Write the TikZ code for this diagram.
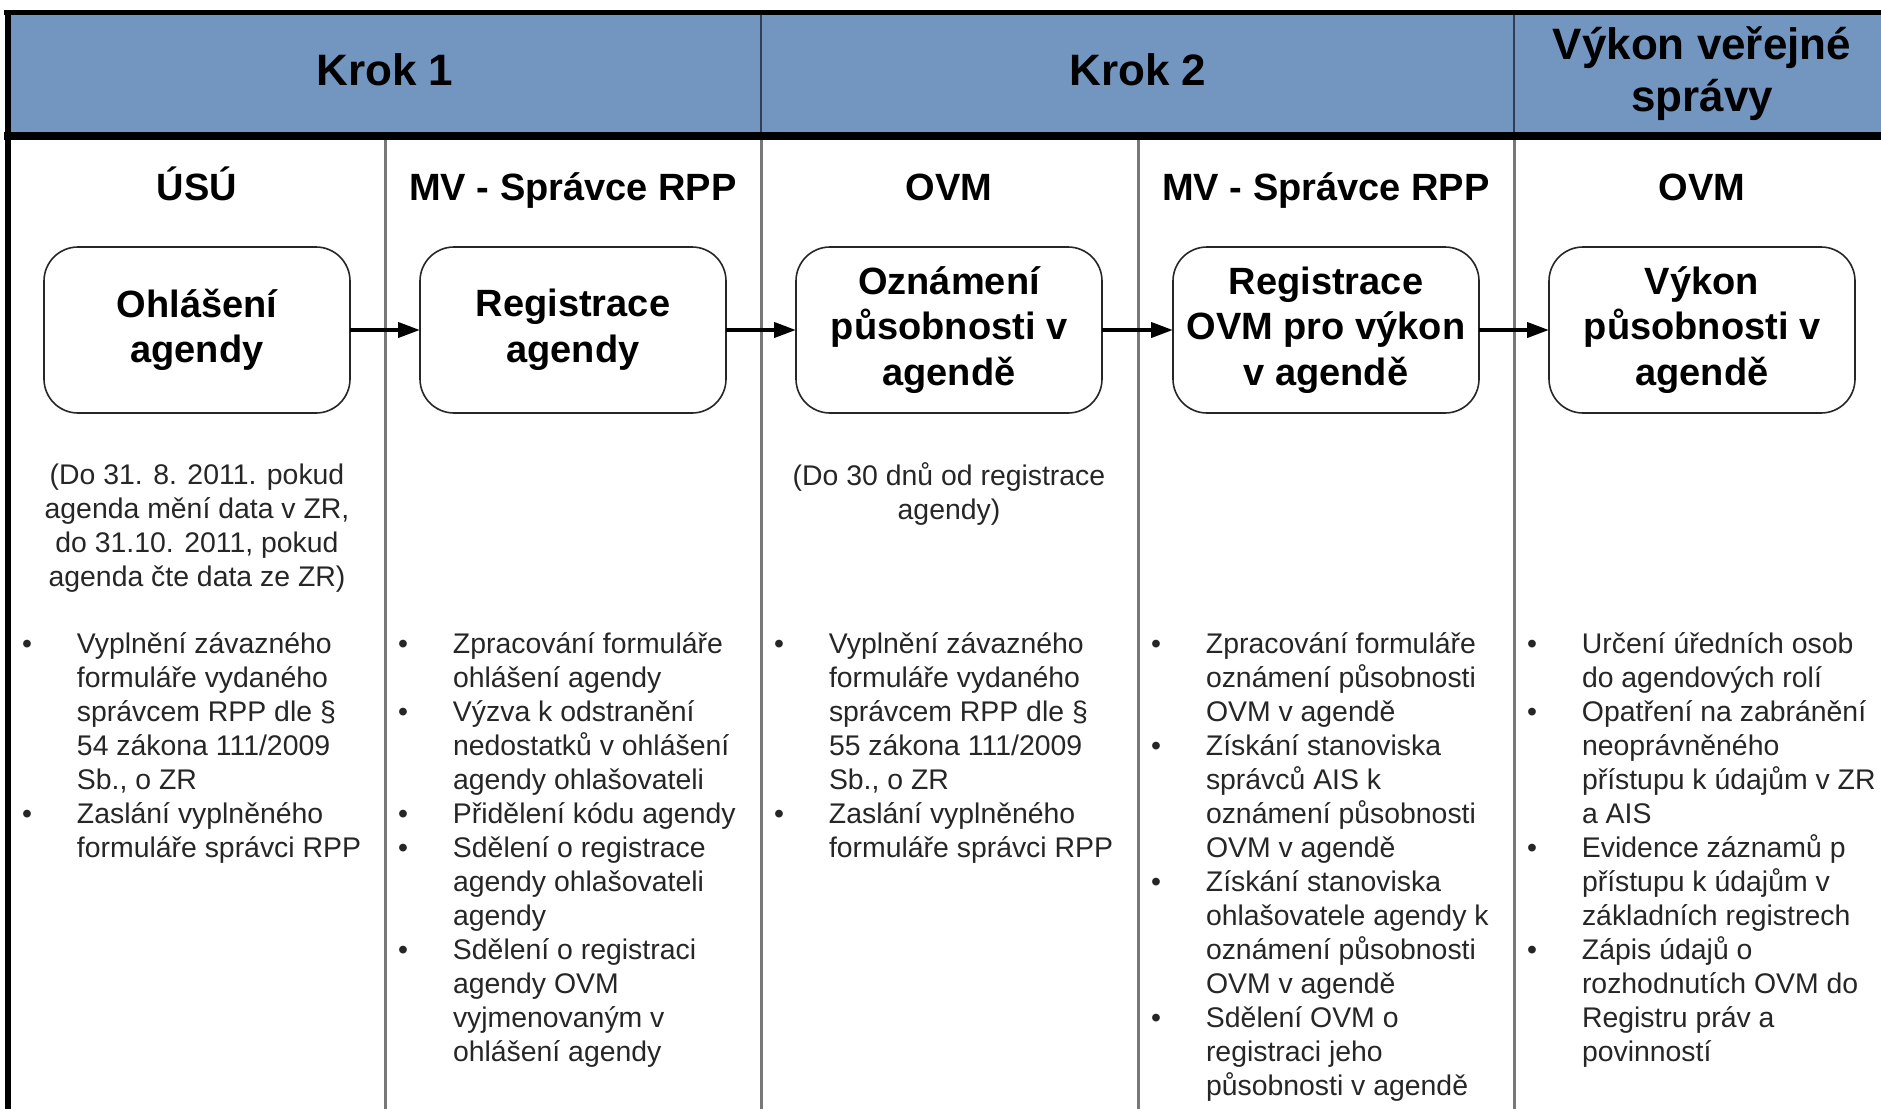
\documentclass[tikz,border=0pt]{standalone}
\usepackage{fontspec}
\setmainfont{Liberation Sans}
\usetikzlibrary{arrows.meta}
\definecolor{headblue}{RGB}{115,150,193}
\definecolor{headline}{RGB}{52,62,82}
\definecolor{laneline}{RGB}{120,120,120}

\begin{document}
\begin{tikzpicture}[x=0.5pt, y=-0.5pt, outer sep=0pt]
  \tikzstyle{title}=[
    font=\fontsize{22}{26}\selectfont\bfseries,
    align=center
  ]
  \tikzstyle{role}=[anchor=base, font=\fontsize{19}{23}\selectfont\bfseries]
  \tikzstyle{stepbox}=[
    draw=black!85,
    line width=0.8pt,
    rounded corners=17pt,
    minimum width=153pt,
    minimum height=83pt,
    fill=white,
    align=center,
    font=\fontsize{19}{22.8}\selectfont\bfseries
  ]
  \tikzstyle{note}=[align=center, text=black!85, font=\fontsize{14.2}{17}\selectfont]
  \tikzstyle{list}=[anchor=north west, inner sep=0pt, text=black!85, font=\fontsize{14.2}{17}\selectfont]
  \tikzstyle{lane}=[draw=laneline, line width=1.5pt]
  \tikzstyle{arrow}=[line width=2pt, -{Triangle[length=11pt,width=7.5pt]}, draw=black]

  \useasboundingbox (0,0) rectangle (1881,1109);

  % header band
  \fill[headblue] (9,12) rectangle (1900,134);
  \draw[headline, line width=1pt] (761,12) -- (761,134);
  \draw[headline, line width=1pt] (1514,12) -- (1514,134);
  \draw[line width=2.5pt] (4,12) -- (1900,12);
  \draw[line width=4pt] (4,136) -- (1900,136);
  \draw[line width=3pt] (8,10) -- (8,1120);

  % lanes
  \draw[lane] (385,140) -- (385,1120);
  \draw[lane] (761,140) -- (761,1120);
  \draw[lane] (1138,140) -- (1138,1120);
  \draw[lane] (1514,140) -- (1514,1120);

  \node[title] (krok1) at (385,70) {Krok 1};
  \node[title] (krok2) at (1138,70) {Krok 2};
  \node[title] (vykon) at (1702,74) {Výkon veřejné\\správy};

  \node[role] (role1) at (197,200) {ÚSÚ};
  \node[role] (role2) at (573,200) {MV - Správce RPP};
  \node[role] (role3) at (949,200) {OVM};
  \node[role] (role4) at (1326,200) {MV - Správce RPP};
  \node[role] (role5) at (1702,200) {OVM};

  \node[stepbox] (step1) at (197,330) {Ohlášení\\agendy};
  \node[stepbox] (step2) at (573,330) {Registrace\\agendy};
  \node[stepbox] (step3) at (949,330) {Oznámení\\působnosti v\\agendě};
  \node[stepbox] (step4) at (1326,330) {Registrace\\OVM pro výkon\\v agendě};
  \node[stepbox] (step5) at (1702,330) {Výkon\\působnosti v\\agendě};
  \draw[arrow] (step1.east) -- (step2.west);
  \draw[arrow] (step2.east) -- (step3.west);
  \draw[arrow] (step3.east) -- (step4.west);
  \draw[arrow] (step4.east) -- (step5.west);

  \node[note] (note1) at (197,528) {(Do 31. 8. 2011. pokud\\agenda mění data v ZR,\\do 31.10. 2011, pokud\\agenda čte data ze ZR)};
  \node[note] (note3) at (949,494) {(Do 30 dnů od registrace\\agendy)};

  \node[list] (list1) at (22,630) {\begin{tabular}{@{}p{27.5pt}@{}l@{}}
    \textbullet & Vyplnění závazného\\
    & formuláře vydaného\\
    & správcem RPP dle §\\
    & 54 zákona 111/2009\\
    & Sb., o ZR\\
    \textbullet & Zaslání vyplněného\\
    & formuláře správci RPP
  \end{tabular}};
  \node[list] (list2) at (398,630) {\begin{tabular}{@{}p{27.5pt}@{}l@{}}
    \textbullet & Zpracování formuláře\\
    & ohlášení agendy\\
    \textbullet & Výzva k odstranění\\
    & nedostatků v ohlášení\\
    & agendy ohlašovateli\\
    \textbullet & Přidělení kódu agendy\\
    \textbullet & Sdělení o registrace\\
    & agendy ohlašovateli\\
    & agendy\\
    \textbullet & Sdělení o registraci\\
    & agendy OVM\\
    & vyjmenovaným v\\
    & ohlášení agendy
  \end{tabular}};
  \node[list] (list3) at (774,630) {\begin{tabular}{@{}p{27.5pt}@{}l@{}}
    \textbullet & Vyplnění závazného\\
    & formuláře vydaného\\
    & správcem RPP dle §\\
    & 55 zákona 111/2009\\
    & Sb., o ZR\\
    \textbullet & Zaslání vyplněného\\
    & formuláře správci RPP
  \end{tabular}};
  \node[list] (list4) at (1151,630) {\begin{tabular}{@{}p{27.5pt}@{}l@{}}
    \textbullet & Zpracování formuláře\\
    & oznámení působnosti\\
    & OVM v agendě\\
    \textbullet & Získání stanoviska\\
    & správců AIS k\\
    & oznámení působnosti\\
    & OVM v agendě\\
    \textbullet & Získání stanoviska\\
    & ohlašovatele agendy k\\
    & oznámení působnosti\\
    & OVM v agendě\\
    \textbullet & Sdělení OVM o\\
    & registraci jeho\\
    & působnosti v agendě
  \end{tabular}};
  \node[list] (list5) at (1527,630) {\begin{tabular}{@{}p{27.5pt}@{}l@{}}
    \textbullet & Určení úředních osob\\
    & do agendových rolí\\
    \textbullet & Opatření na zabránění\\
    & neoprávněného\\
    & přístupu k údajům v ZR\\
    & a AIS\\
    \textbullet & Evidence záznamů p\\
    & přístupu k údajům v\\
    & základních registrech\\
    \textbullet & Zápis údajů o\\
    & rozhodnutích OVM do\\
    & Registru práv a\\
    & povinností
  \end{tabular}};
\end{tikzpicture}
\end{document}
